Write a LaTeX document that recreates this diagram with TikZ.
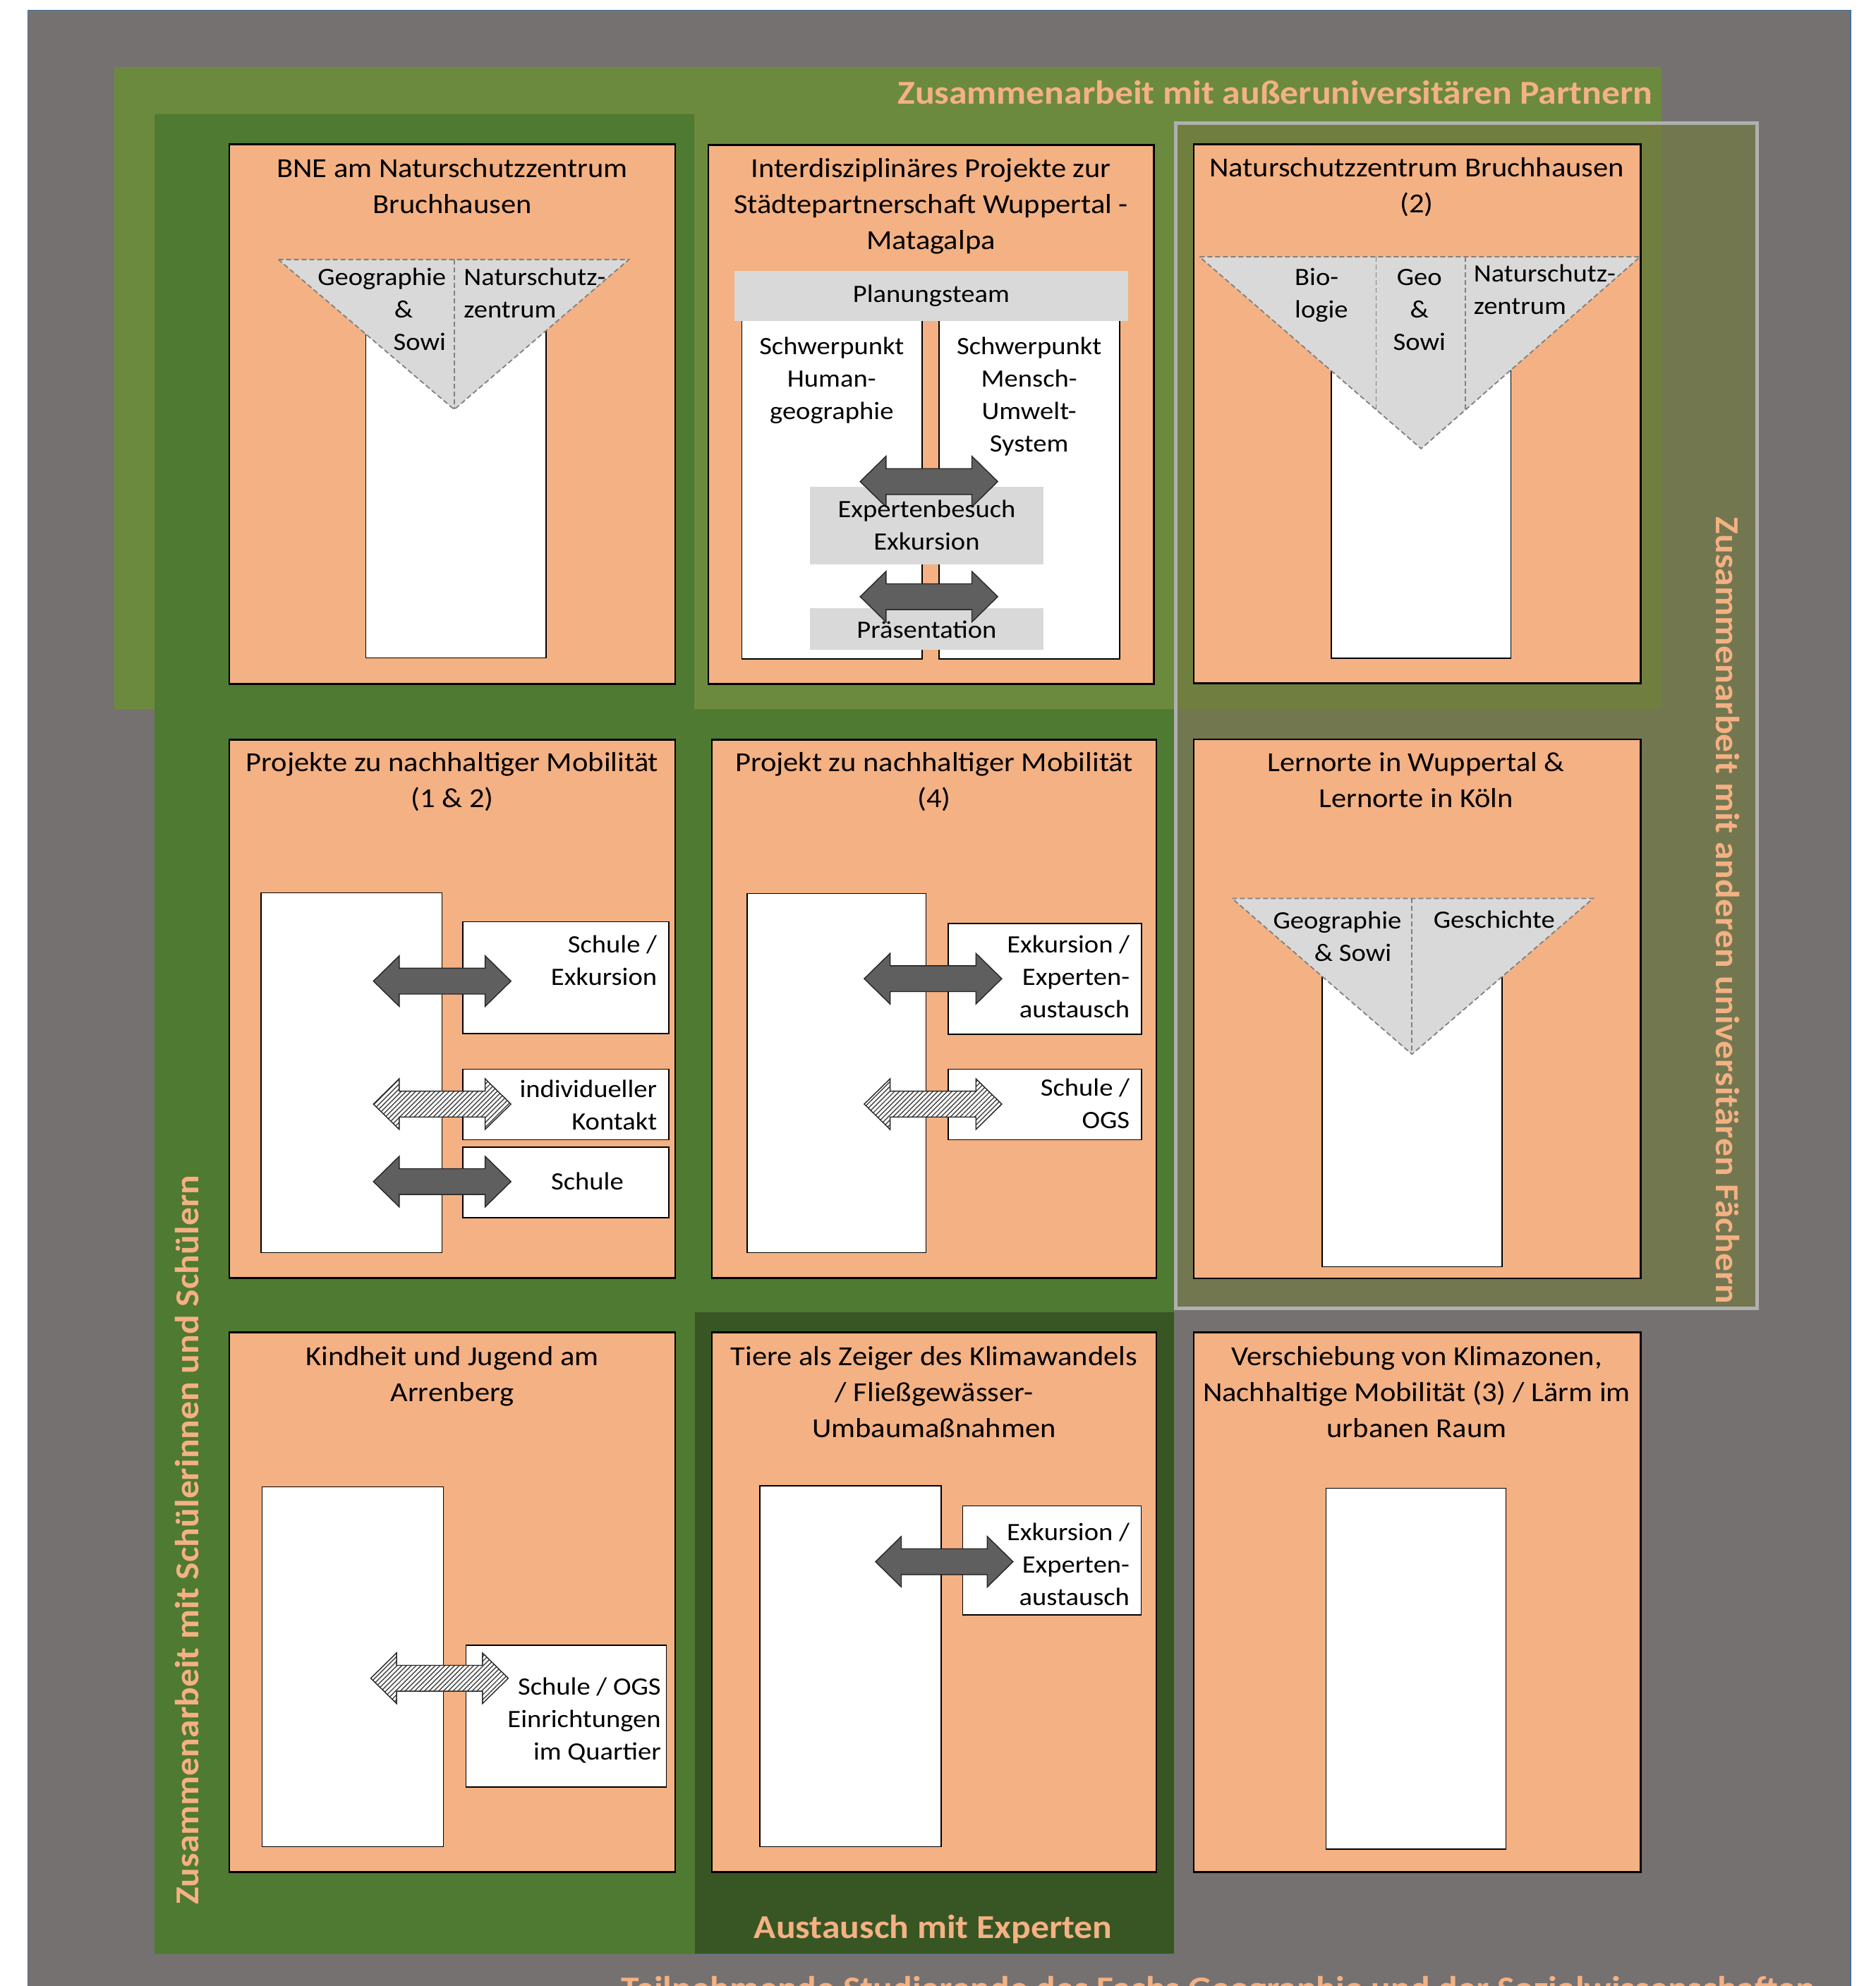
\documentclass[tikz,border=0pt]{standalone}
\usepackage{fontspec}
\setmainfont[FakeStretch=1.09]{Carlito}
\usetikzlibrary{patterns.meta}
\definecolor{bggrey}{HTML}{767171}
\definecolor{partner}{HTML}{6C8A3D}
\definecolor{midgreen}{HTML}{4F7A32}
\definecolor{darkgreen}{HTML}{385623}
\definecolor{boxor}{HTML}{F4B183}
\definecolor{trigrey}{HTML}{D9D9D9}
\definecolor{dashgrey}{HTML}{808080}
\definecolor{arrowgrey}{HTML}{5F5F5F}
\definecolor{blueline}{HTML}{41719C}
\definecolor{faechfill}{HTML}{727A40}
\definecolor{faechline}{HTML}{B0B0B0}
\tikzset{
 boxst/.style={draw=black, line width=1.2pt, fill=boxor},
 whitest/.style={draw=black, line width=0.8pt, fill=white},
 tri/.style={fill=trigrey, draw=dashgrey, line width=0.9pt, dash pattern=on 3.5pt off 2pt},
 tridiv/.style={draw=dashgrey, line width=0.9pt, dash pattern=on 3.5pt off 2pt},
 bar/.style={fill=trigrey},
 ttl/.style={font=\fontsize{19.5}{25.5}\selectfont, align=center, anchor=base, inner sep=0pt},
 txt/.style={font=\fontsize{17.7}{23}\selectfont, inner sep=0pt},
 hdr/.style={font=\bfseries\fontsize{23.7}{29}\selectfont, text=boxor, inner sep=0pt},
 darkarr/.style={fill=arrowgrey, draw=black!85, line width=0.7pt},
 hatcharr/.style={preaction={fill=white}, pattern={Lines[angle=45,distance=2.4pt,line width=0.7pt]}, pattern color=black!75, draw=black!85, line width=0.7pt},
 pics/barrow/.style={code={\path[#1] (-54.3,0) -- (-33.9,20) -- (-33.9,10.2) -- (33.9,10.2) -- (33.9,20) -- (54.3,0) -- (33.9,-20) -- (33.9,-10.2) -- (-33.9,-10.2) -- (-33.9,-20) -- cycle;}},
}
\begin{document}
\begin{tikzpicture}[x=0.8977pt,y=-0.8977pt]
\useasboundingbox (0,0) rectangle (1481,1568);
\fill[white] (0,0) rectangle (1481,1568);
\draw[fill=bggrey, draw=blueline, line width=0.8pt] (22,8) rectangle (1461,1600);
% regions
\fill[partner] (90,53) rectangle (1312,560);
\fill[midgreen] (122,90) -- (548,90) -- (548,560) -- (927,560) -- (927,1542.5) -- (122,1542.5) -- cycle;
\fill[darkgreen] (548.5,1036) rectangle (927,1542.5);
\draw[blueline, line width=0.6pt] (548.5,1542.5) -- (927,1542.5);
\draw[fill=faechfill, fill opacity=0.67, draw=faechline, line width=2.5pt] (928.5,97) rectangle (1387,1033);
% headers
\node[hdr, anchor=base east] (hPartner) at (1305,82) {Zusammenarbeit mit außeruniversitären Partnern};
\node[hdr, anchor=base west, rotate=-90] (hFaecher) at (1355,408) {Zusammenarbeit mit anderen universitären Fächern};
\node[hdr, anchor=base west, rotate=90] (hSchueler) at (157,1504) {Zusammenarbeit mit Schülerinnen und Schülern};
\node[hdr, anchor=base] (hExperten) at (736.7,1530.6) {Austausch mit Experten};
\node[hdr, anchor=base west] (hStud) at (490,1578.6) {Teilnehmende Studierende des Fachs Geographie und der Sozialwissenschaften};
% boxes
\draw[boxst] (181,114) rectangle (533,540);
\draw[boxst] (559.3,114.5) rectangle (911,540);
\draw[boxst] (942.4,114) rectangle (1295.4,539.5);
\draw[boxst] (181,584) rectangle (533,1009);
\draw[boxst] (562,584) rectangle (913,1009);
\draw[boxst] (942.4,583.7) rectangle (1295.4,1009.3);
\draw[boxst] (181,1052) rectangle (533,1478);
\draw[boxst] (562,1052) rectangle (913,1478);
\draw[boxst] (942.4,1052) rectangle (1295.4,1478);
% Box A
\draw[whitest] (288.9,255) rectangle (431,519.4);
\draw[tri] (219.8,204.9) -- (496.5,204.9) -- (358.6,323.3) -- cycle;
\draw[tridiv] (358.6,204.9) -- (358.6,323.3);
\node[ttl] (tA) at (357,168.4) {BNE am Naturschutzzentrum\\Bruchhausen};
\node[txt, align=right, anchor=base east] (tA1) at (352.3,276.5) {Geographie\\\&\rule{23.5pt}{0pt}\\Sowi};
\node[txt, align=left, anchor=base west] (tA2) at (366,250.9) {Naturschutz-\\zentrum};
% Box B
\node[ttl] (tB) at (735,196.8) {Interdisziplinäres Projekte zur\\Städtepartnerschaft Wuppertal -\\Matagalpa};
\draw[whitest] (585.8,250) rectangle (728.1,520.2);
\draw[whitest] (741.5,250) rectangle (884,520.2);
\fill[bar] (579.7,213.9) rectangle (890.8,253.7);
\node[txt, anchor=base] (tPlan) at (735.2,238.7) {Planungsteam};
\node[txt, align=center, anchor=base] (tHum) at (656.6,331) {Schwerpunkt\\Human-\\geographie};
\node[txt, align=center, anchor=base] (tMUS) at (812.5,356.7) {Schwerpunkt\\Mensch-\\Umwelt-\\System};
\fill[bar] (639.5,384.4) rectangle (823.8,445.5);
\fill[bar] (639.5,479.9) rectangle (823.8,512.9);
\pic at (733.4,380.2) {barrow=darkarr};
\pic at (733.4,471.1) {barrow=darkarr};
\node[txt, align=center, anchor=base] (tExp) at (731.6,434.2) {Expertenbesuch\\Exkursion};
\node[txt, anchor=base] (tPraes) at (731.6,503.8) {Präsentation};
% Box C
\node[ttl] (tC) at (1118.5,168) {Naturschutzzentrum Bruchhausen\\(2)};
\draw[whitest] (1051,280) rectangle (1192.8,519.7);
\draw[tri] (947.1,202.8) -- (1294.8,202.8) -- (1122,354.2) -- cycle;
\draw[tridiv] (1086.4,202.8) -- (1086.4,323.4);
\draw[tridiv] (1157.1,202.8) -- (1157.1,323.5);
\node[txt, align=left, anchor=base west] (tC1) at (1022,251.1) {Bio-\\logie};
\node[txt, align=center, anchor=base] (tC2) at (1120.6,276.7) {Geo\\\&\\Sowi};
\node[txt, align=left, anchor=base west] (tC3) at (1163.3,248.2) {Naturschutz-\\zentrum};
% Box D
\node[ttl] (tD) at (357,637.4) {Projekte zu nachhaltiger Mobilität\\(1 \& 2)};
\draw[whitest] (206,705) rectangle (349,989);
\draw[whitest] (365.4,727.8) rectangle (528.2,816);
\draw[whitest] (365.4,844.2) rectangle (528.2,899.9);
\draw[whitest] (365.4,905.6) rectangle (528.2,961.3);
\pic at (349.1,774.6) {barrow=darkarr};
\pic at (349.1,871.7) {barrow=hatcharr};
\pic at (349.1,932.9) {barrow=darkarr};
\node[txt, align=right, anchor=base east] (tD1) at (518.9,777.7) {Schule /\\Exkursion};
\node[txt, align=right, anchor=base east] (tD2) at (518.9,891.9) {individueller\\Kontakt};
\node[txt, anchor=base] (tD3) at (463.7,939.4) {Schule};
% Box E
\node[ttl] (tE) at (737.5,637.4) {Projekt zu nachhaltiger Mobilität\\(4)};
\draw[whitest] (590,705.5) rectangle (731,989);
\draw[whitest] (748.6,729.1) rectangle (901.4,816.5);
\draw[whitest] (748.6,844.2) rectangle (901.4,899.9);
\pic at (736.6,772.7) {barrow=darkarr};
\pic at (736.6,871.7) {barrow=hatcharr};
\node[txt, align=right, anchor=base east] (tE1) at (892.1,803.5) {Exkursion /\\Experten-\\austausch};
\node[txt, align=right, anchor=base east] (tE2) at (892.1,891) {Schule /\\OGS};
% Box F
\node[ttl] (tF) at (1118,637.6) {Lernorte in Wuppertal \&\\Lernorte in Köln};
\draw[whitest] (1043.7,762) rectangle (1186,1000);
\draw[tri] (972.7,709.3) -- (1257.8,709.3) -- (1114.7,832.3) -- cycle;
\draw[tridiv] (1114.7,709.3) -- (1114.7,832.3);
\node[txt, align=right, anchor=base east] (tF1) at (1106.6,758.9) {Geographie\\\&~Sowi\rule{7pt}{0pt}};
\node[txt, anchor=base west] (tF2) at (1131.5,732.8) {Geschichte};
% Box G
\node[ttl] (tG) at (357,1106.4) {Kindheit und Jugend am\\Arrenberg};
\draw[whitest] (207,1174) rectangle (350,1458);
\draw[whitest] (368,1299) rectangle (526,1411);
\pic at (347,1325) {barrow=hatcharr};
\node[txt, align=right, anchor=base east] (tG1) at (522,1389.2) {Schule / OGS\\Einrichtungen\\im Quartier};
% Box H
\node[ttl] (tH) at (737.5,1134.8) {Tiere als Zeiger des Klimawandels\\/ Fließgewässer-\\Umbaumaßnahmen};
\draw[whitest] (600,1173) rectangle (743,1458);
\draw[whitest] (760,1189) rectangle (901,1275);
\pic at (745.5,1233) {barrow=darkarr};
\node[txt, align=right, anchor=base east] (tH1) at (892,1267.2) {Exkursion /\\Experten-\\austausch};
% Box I
\node[ttl] (tI) at (1118.5,1134.8) {Verschiebung von Klimazonen,\\Nachhaltige Mobilität (3) / Lärm im\\urbanen Raum};
\draw[whitest] (1047,1175) rectangle (1189,1460);
\end{tikzpicture}
\end{document}
